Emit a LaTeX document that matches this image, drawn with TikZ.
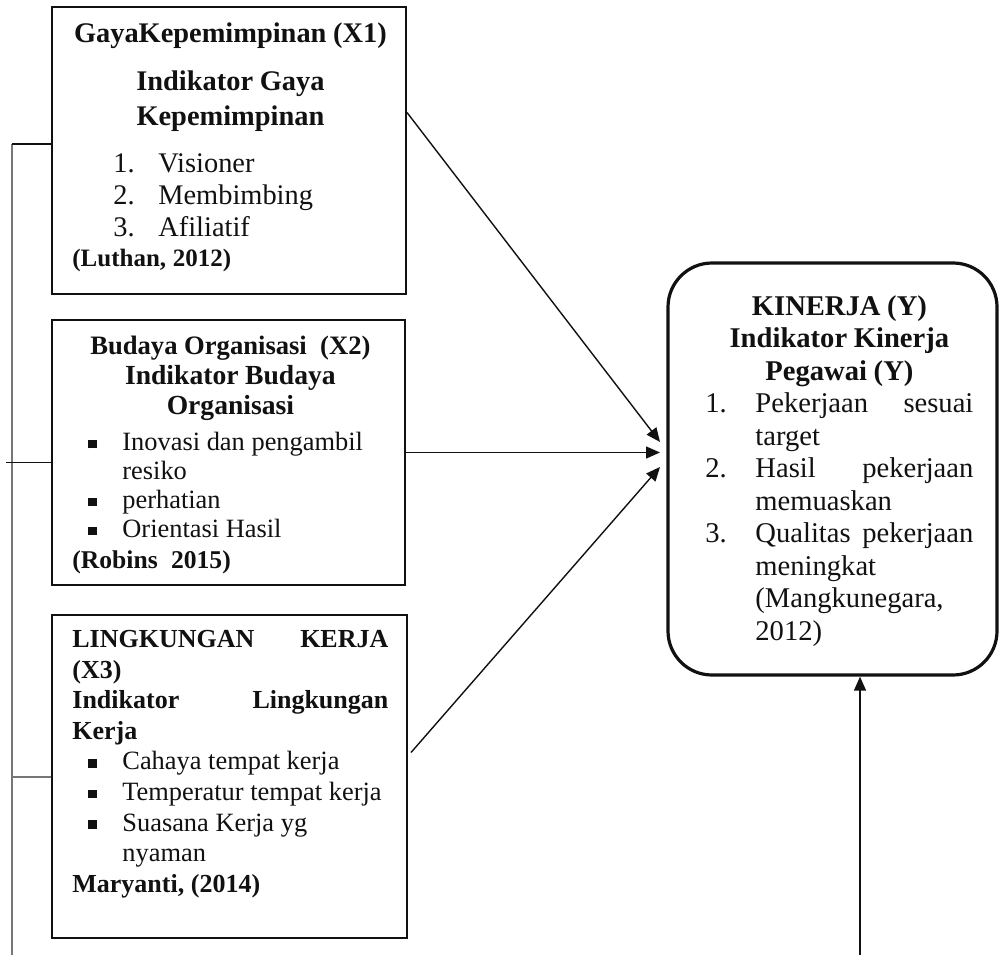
\documentclass[tikz,border=0pt]{standalone}
\usepackage{fontspec}
\setmainfont{Liberation Serif}
\usepackage{tikz}
\usetikzlibrary{arrows.meta,positioning}
\definecolor{ink}{HTML}{111111}
\definecolor{rail}{HTML}{777777}

\newcommand{\sqitem}{\hspace*{8pt}\makebox[17pt][l]{\rule[1pt]{4.4pt}{4.4pt}}}
\newcommand{\numitem}[1]{\makebox[25pt][l]{#1}}

\begin{document}
\begin{tikzpicture}[
  x=0.5pt,
  y=0.5pt,
  varbox/.style={
    draw=ink,line width=1pt,fill=white,inner sep=0pt
  },
  kinerja/.style={
    draw=ink,line width=1.6pt,fill=white,rounded corners=22pt,inner sep=0pt
  },
  boxtext/.style={
    anchor=north west,inner sep=0pt,text width=158pt,align=left,text=ink
  },
  link/.style={
    -{Triangle[length=7pt,width=6pt]},line width=0.7pt,draw=ink
  },
  rail/.style={draw=rail,line width=1pt},
  tick/.style={draw=ink,line width=0.8pt}
]
  \useasboundingbox (0,0) rectangle (999,955);

  % Gaya Kepemimpinan (X1)
  \node[varbox,minimum width=177pt,minimum height=143.5pt] (x1) at (229,804.5) {};
  \node[boxtext] (x1-text) at (72,935.4) {%
    \fontsize{14.2}{16}\selectfont
    {\centering\bfseries\strut GayaKepemimpinan (X1)\par}
    \vspace{8pt}
    {\centering\bfseries Indikator Gaya\\[1.5pt] Kepemimpinan\par}
    \vspace{7.5pt}
    \hspace*{20.5pt}\makebox[22.5pt][l]{1.}Visioner\\
    \hspace*{20.5pt}\makebox[22.5pt][l]{2.}Membimbing\\
    \hspace*{20.5pt}\makebox[22.5pt][l]{3.}Afiliatif\par
    \vspace{-1pt}
    {\fontsize{12.5}{16}\selectfont\bfseries (Luthan, 2012)\par}};

  % Budaya Organisasi (X2)
  \node[varbox,minimum width=176.5pt,minimum height=132.5pt] (x2) at (228.5,502.5) {};
  \node[boxtext] (x2-text) at (72,621.3) {%
    \fontsize{13.3}{14.5}\selectfont
    {\centering\bfseries\strut Budaya Organisasi\ \ (X2)\par}
    \vspace{0.5pt}
    {\fontsize{13.8}{14.5}\selectfont\centering\bfseries
     Indikator Budaya\\[0.5pt] Organisasi\par}
    \vspace{3.5pt}
    {\fontsize{13.2}{14.5}\selectfont
     \sqitem Inovasi dan pengambil\\
     \hspace*{25pt}resiko\\
     \sqitem perhatian\\
     \sqitem Orientasi Hasil\par}
    \vspace{1pt}
    {\fontsize{12.8}{14.5}\selectfont\bfseries (Robins\ \ 2015)\par}};

  % Lingkungan Kerja (X3)
  \node[varbox,minimum width=177.5pt,minimum height=161.5pt] (x3) at (229.5,178.5) {};
  \node[boxtext] (x3-text) at (72,329.4) {%
    \fontsize{13}{15.3}\selectfont\bfseries
    \strut LINGKUNGAN\hfill KERJA\\
    (X3)\\
    Indikator\hfill Lingkungan\\
    Kerja\par
    {\fontsize{13.2}{15.3}\selectfont\mdseries
     \sqitem Cahaya tempat kerja\\
     \sqitem Temperatur tempat kerja\\
     \sqitem Suasana Kerja yg\\
     \hspace*{25pt}nyaman\par}
    Maryanti, (2014)\par};

  % Kinerja (Y)
  \node[kinerja,minimum width=164.5pt,minimum height=206pt] (y) at (832.5,486) {};
  \node[boxtext,text width=134pt] (y-text) at (705,662.75) {%
    \fontsize{14.3}{16.25}\selectfont
    {\centering\bfseries\strut KINERJA (Y)\\Indikator Kinerja\\Pegawai (Y)\par}
    \numitem{1.}Pekerjaan\hfill sesuai\\
    \hspace*{25pt}target\\
    \numitem{2.}Hasil\hfill pekerjaan\\
    \hspace*{25pt}memuaskan\\
    \numitem{3.}Qualitas\hfill pekerjaan\\
    \hspace*{25pt}meningkat\\
    \hspace*{25pt}(Mangkunegara,\\
    \hspace*{25pt}2012)\par};

  % rail on the left
  \coordinate (rail-top) at (12,811);
  \coordinate (rail-end) at (12,0);
  \draw[rail] (rail-top) -- (rail-end);
  \draw[tick] (rail-top) -- (rail-top -| x1.west);
  \draw[tick] ([yshift=-5pt]x2.west) -- ++(-45,0);
  \draw[rail] (x3.west) -- (x3.west -| rail-top);

  % arrows into Y
  \coordinate (y-in-a) at (660,513);
  \coordinate (y-in-c) at (660,488);
  \coordinate (y-src) at (860,0);
  \draw[link] ([yshift=19pt]x1.east) -- (y-in-a);
  \draw[link] (x2.east) -- (x2.east -| y-in-a);
  \draw[link] ([shift={(1.5pt,12pt)}]x3.east) -- (y-in-c);
  \draw[link] (y-src) -- (y-src |- y.south);
\end{tikzpicture}
\end{document}
